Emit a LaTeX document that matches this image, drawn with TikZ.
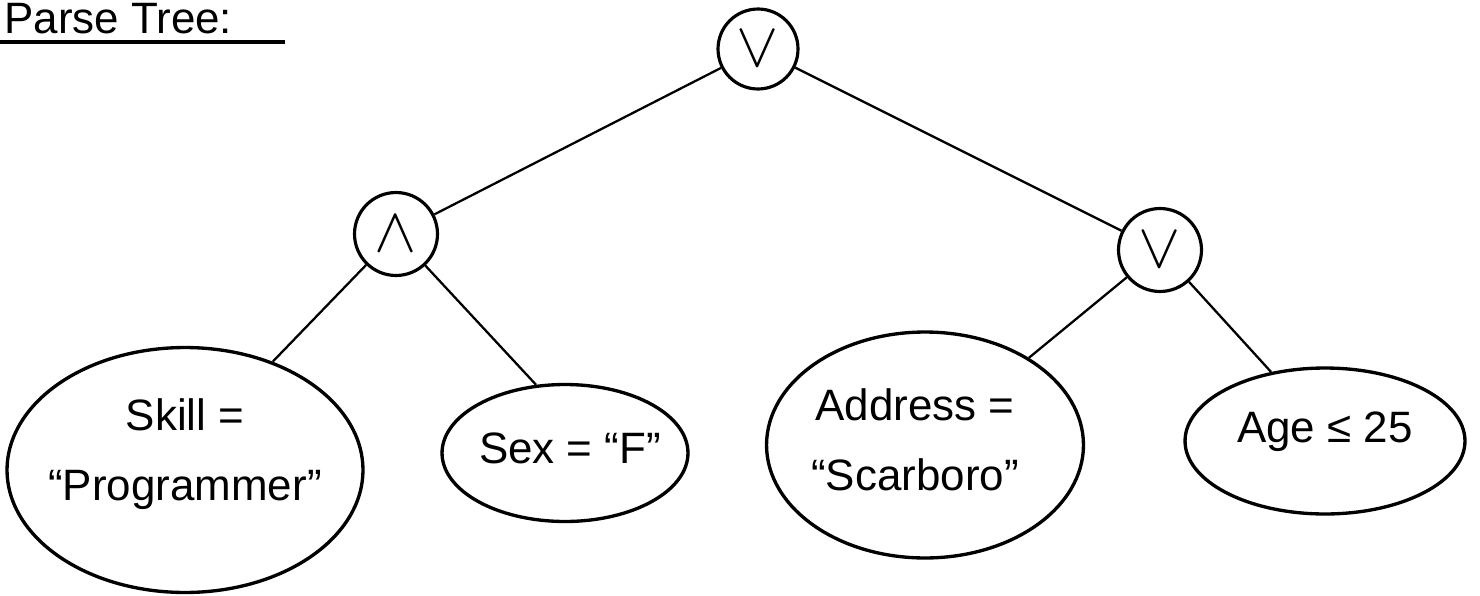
\documentclass[tikz,border=0pt]{standalone}
\usepackage{fontspec}
\setmainfont{Liberation Sans}
\usetikzlibrary{shapes.geometric, positioning}
\begin{document}
\begin{tikzpicture}[x=0.02cm, y=-0.02cm,
  opr/.style={draw, circle, line width=1.8pt, minimum size=1.66cm, inner sep=0pt},
  folha/.style={draw, ellipse, line width=1.9pt, inner sep=0pt},
  rotulo/.style={align=center, font=\fontsize{25}{40}\selectfont},
  ramo/.style={line width=1.3pt}]
  \clip (0,0) rectangle (1480,595);
  % titulo
  \node[anchor=base west, font=\fontsize{25}{25}\selectfont, inner sep=0pt] (titulo) at (4,33) {Parse Tree:};
  \draw[line width=2pt] (0,42) -- (285,42);
  % operadores
  \node[opr, minimum size=1.6cm] (raiz) at (758,49) {\scalebox{3.6}{$\vee$}};
  \node[opr] (e) at (396,234) {\scalebox{3.6}{$\wedge$}};
  \node[opr] (ou) at (1160,250) {\scalebox{3.6}{$\vee$}};
  % folhas
  \node[folha, minimum width=7.12cm, minimum height=4.9cm,
        label={[rotulo, yshift=0.32cm]center:{Skill =\\“Programmer”}}] (skill) at (185,470) {};
  \node[folha, minimum width=4.92cm, minimum height=2.74cm,
        label={[rotulo, xshift=0.1cm, yshift=0.1cm]center:{Sex = “F”}}] (sex) at (565,453) {};
  \node[folha, minimum width=6.34cm, minimum height=4.52cm,
        label={[rotulo, xshift=-0.2cm, yshift=0.1cm]center:{Address =\\“Scarboro”}}] (addr) at (925,445) {};
  \node[folha, minimum width=5.6cm, minimum height=2.92cm,
        label={[rotulo, yshift=0.18cm]center:{Age ≤ 25}}] (age) at (1325,441) {};
  % ramos
  \draw[ramo] (raiz) -- (e);
  \draw[ramo] (raiz) -- (ou);
  \draw[ramo] (e) -- (skill.51);
  \draw[ramo] (e) -- (sex.113);
  \draw[ramo] (ou) -- (addr.40);
  \draw[ramo] (ou) -- (age.128);
\end{tikzpicture}
\end{document}
